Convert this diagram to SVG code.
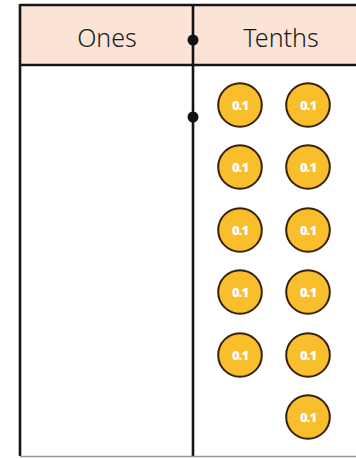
<svg xmlns="http://www.w3.org/2000/svg" width="356" height="458" viewBox="0 0 356 458">
<style>
.line{stroke:#151515;stroke-width:2.6;fill:none}
.hdr{font-family:"Noto Sans","Open Sans",sans-serif;font-size:25px;font-weight:300;fill:#1a1a1a;text-anchor:middle}
</style>
<defs>
<g id="c"><circle r="21.8" fill="#F8BE2B" stroke="#3a200f" stroke-width="2"/><text y="4.5" fill="#fff" text-anchor="middle" font-size="13" font-weight="900" letter-spacing="-1" font-family="Noto Sans, DejaVu Sans, sans-serif">0.1</text></g>
</defs>
<rect width="356" height="458" fill="#fff"/>
<g id="header">
<rect x="20" y="5" width="336" height="60" fill="#FBE3D6"/>
<text class="hdr" x="107" y="47">Ones</text>
<text class="hdr" x="281" y="47">Tenths</text>
</g>
<g id="grid">
<line class="line" x1="20" y1="5" x2="356" y2="5"/>
<line class="line" x1="20" y1="65" x2="356" y2="65"/>
<line class="line" x1="20" y1="4" x2="20" y2="456"/>
<line class="line" x1="193" y1="4" x2="193" y2="456"/>
<line x1="20" y1="456.5" x2="356" y2="456.5" stroke="#999" stroke-width="1.5"/>
<circle cx="193" cy="40" r="5.5" fill="#111"/>
<circle cx="193" cy="117" r="5.5" fill="#111"/>
</g>
<g id="coins">
<use href="#c" x="240" y="105"/><use href="#c" x="308" y="105"/>
<use href="#c" x="240" y="167"/><use href="#c" x="308" y="167"/>
<use href="#c" x="240" y="230"/><use href="#c" x="308" y="230"/>
<use href="#c" x="240" y="292"/><use href="#c" x="308" y="292"/>
<use href="#c" x="240" y="355"/><use href="#c" x="308" y="355"/>
<use href="#c" x="308" y="417"/>
</g>
</svg>
